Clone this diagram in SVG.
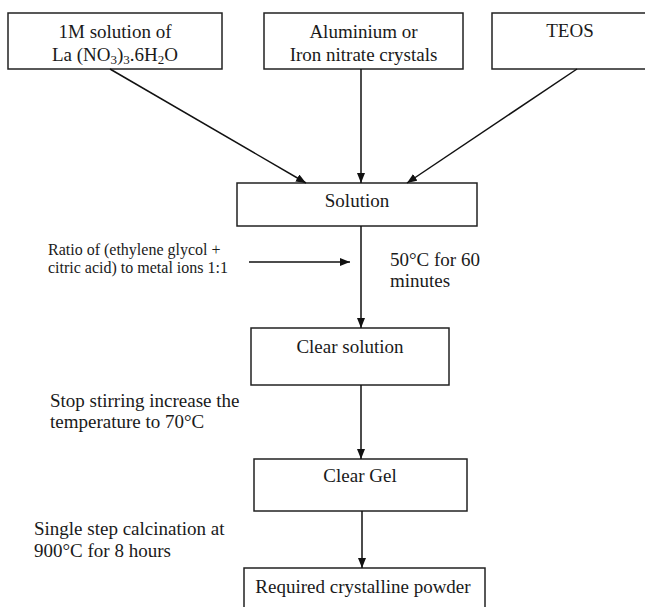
<svg xmlns="http://www.w3.org/2000/svg" width="645" height="607" viewBox="0 0 645 607">
<style>
.box{fill:#fff;stroke:#222;stroke-width:1.5}
.t{font-family:"Liberation Serif","Times New Roman",serif;font-size:19px;fill:#1a1a1a}
.c{text-anchor:middle}
.s{font-size:16px}
.ln{stroke:#111;stroke-width:1.5;fill:none}
</style>
<defs>
<marker id="ah" markerWidth="10" markerHeight="8" refX="10" refY="4" orient="auto" markerUnits="userSpaceOnUse">
<path d="M0,0 L10,4 L0,8 Z" fill="#111"/>
</marker>
</defs>
<rect width="645" height="607" fill="#fff"/>
<g id="n1"><rect class="box" x="8" y="13" width="214" height="56"/>
<text class="t c" x="115" y="38">1M solution of</text>
<text class="t c" x="115" y="61">La (NO<tspan font-size="13" dy="3">3</tspan><tspan dy="-3">)</tspan><tspan font-size="13" dy="3">3</tspan><tspan dy="-3">.6H</tspan><tspan font-size="13" dy="3">2</tspan><tspan dy="-3">O</tspan></text></g>
<g id="n2"><rect class="box" x="264" y="13" width="199" height="56"/>
<text class="t c" x="363.5" y="38">Aluminium or</text>
<text class="t c" x="363.5" y="61">Iron nitrate crystals</text></g>
<g id="n3"><rect class="box" x="492" y="13" width="156" height="56"/>
<text class="t c" x="570" y="37">TEOS</text></g>
<g id="n4"><rect class="box" x="237" y="183" width="240" height="43"/>
<text class="t c" x="357" y="207">Solution</text></g>
<g id="n5"><rect class="box" x="251" y="328" width="198" height="57"/>
<text class="t c" x="350" y="353">Clear solution</text></g>
<g id="n6"><rect class="box" x="254" y="459" width="213" height="52"/>
<text class="t c" x="360" y="482">Clear Gel</text></g>
<g id="n7"><rect class="box" x="244" y="568" width="241" height="50"/>
<text class="t c" x="363" y="593">Required crystalline powder</text></g>
<g id="labels">
<text class="t s" x="48" y="255">Ratio of (ethylene glycol +</text>
<text class="t s" x="48" y="273">citric acid) to metal ions 1:1</text>
<text class="t" x="390" y="266">50°C for 60</text>
<text class="t" x="390" y="287">minutes</text>
<text class="t" x="50" y="407">Stop stirring increase the</text>
<text class="t" x="50" y="428">temperature to 70°C</text>
<text class="t" x="34" y="535">Single step calcination at</text>
<text class="t" x="34" y="557">900°C for 8 hours</text>
</g>
<g id="connectors">
<line class="ln" x1="110" y1="69" x2="306" y2="183" marker-end="url(#ah)"/>
<line class="ln" x1="361" y1="69" x2="361" y2="183" marker-end="url(#ah)"/>
<line class="ln" x1="577" y1="69" x2="407" y2="183" marker-end="url(#ah)"/>
<line class="ln" x1="249" y1="262" x2="350" y2="262" marker-end="url(#ah)"/>
<line class="ln" x1="361" y1="226" x2="361" y2="328" marker-end="url(#ah)"/>
<line class="ln" x1="361" y1="385" x2="361" y2="459" marker-end="url(#ah)"/>
<line class="ln" x1="362" y1="511" x2="362" y2="568" marker-end="url(#ah)"/>
</g>
</svg>
